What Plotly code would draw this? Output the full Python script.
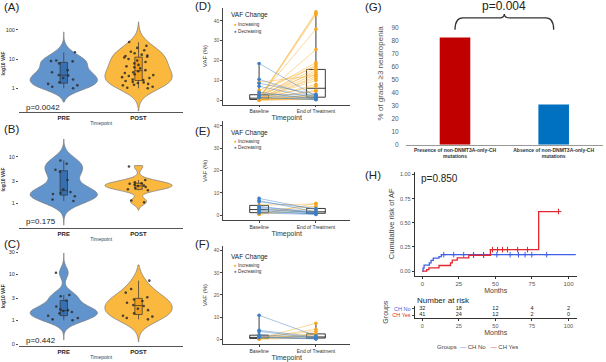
import numpy as np
import plotly.graph_objects as go

W, H = 606, 362
FONT = "Liberation Sans, Arial, sans-serif"

# ---------------- data ----------------
# Panels A-C : log10 VAF of each sample (PRE / POST)
a_pre = [1.23, 0.95, 0.93, 0.92, 0.85, 0.62, 0.55, 0.45, 0.44, 0.35, 0.30, 0.20, 0.15, 0.10, 0.05, 0.0]
a_post = [1.58, 1.45, 1.38, 1.30, 1.25, 1.20, 1.15, 1.12, 1.10, 1.08, 1.05, 1.00, 0.95, 0.90, 0.85,
          0.80, 0.75, 0.72, 0.68, 0.62, 0.58, 0.55, 0.52, 0.48, 0.45, 0.42, 0.38, 0.35, 0.30, 0.28,
          0.25, 0.22, 0.20, 0.18, 0.15, 0.12, 0.10, 0.05, 0.02, 0.0]
b_pre = [0.92, 0.85, 0.72, 0.68, 0.50, 0.30, 0.24, 0.22, 0.20, 0.15, 0.08, 0.05]
b_post = [0.79, 0.50, 0.45, 0.43, 0.42, 0.40, 0.38, 0.37, 0.35, 0.33, 0.30, 0.28, 0.06, 0.02]
c_pre = [1.03, 0.55, 0.52, 0.43, 0.30, 0.24, 0.22, 0.20, 0.18, 0.15, 0.10, 0.05, 0.02, 0.0]
c_post = [0.86, 0.68, 0.60, 0.50, 0.45, 0.42, 0.38, 0.33, 0.31, 0.25, 0.22, 0.15, 0.10, 0.08, 0.05, 0.02]
violin_p = ["p=0.0042", "p=0.175", "p=0.442"]
a_ticks, a_labels = [1, 10, 100], ["1", "10", "100"]
b_ticks, b_labels = [1, 3, 10], ["1", "3", "10"]
c_ticks, c_labels = [0.3, 1, 3, 10, 30], ["0", "1", "3", "10", "30"]

# Panels D-F : VAF (%) at Baseline / End of Treatment, split by change direction
d_inc_base = [0.5, 1.0, 0.3, 1.5, 0.8, 3.0, 1.0, 5.0, 2.0, 0.5, 2.5, 1.2, 0.3, 9.0, 1.0, 0.6, 0.2, 1.0, 0.4, 0.8, 0.1, 0.3, 0.5, 0.2, 0.1, 0.1, 0.05]
d_inc_end = [44.5, 43.8, 43.0, 35.8, 25.5, 19.0, 18.0, 17.0, 16.0, 15.0, 14.0, 13.0, 12.0, 12.5, 11.0, 10.0, 8.0, 7.0, 5.0, 4.5, 3.0, 2.5, 2.0, 1.5, 0.8, 0.6, 0.4]
d_dec_base = [18.5, 10.5, 8.5, 7.0, 4.0, 3.0, 2.5, 1.5, 1.2]
d_dec_end = [2.0, 1.5, 3.0, 1.0, 0.5, 2.5, 1.0, 0.2, 0.5]
e_inc_base = [0.3, 1.0, 2.0, 0.5, 4.5]
e_inc_end = [5.3, 3.0, 4.0, 2.0, 5.0]
e_dec_base = [7.5, 6.5, 6.0, 4.0, 3.5, 3.0, 2.5, 2.0, 1.5, 1.0]
e_dec_end = [2.5, 1.5, 3.0, 1.0, 1.5, 0.8, 1.2, 0.5, 0.6, 0.3]
f_inc_base = [0.2, 0.5, 1.0, 0.3, 0.1, 0.8, 0.4, 0.0]
f_inc_end = [7.2, 4.5, 3.5, 2.5, 2.0, 1.5, 1.0, 0.5]
f_dec_base = [10.8, 4.0, 3.5, 2.0, 1.2, 0.9, 0.7]
f_dec_end = [1.5, 1.0, 0.5, 0.8, 0.3, 0.2, 0.1]
timepoints = ["Baseline", "End of Treatment"]
vaf_ticks = [0, 10, 20, 30, 40]

# Panel G
g_cats = ["Presence of non-DNMT3A-only-CH<br>mutations", "Absence of non-DNMT3A-only-CH<br>mutations"]
g_vals = [82.6, 31.0]
g_ticks = [0, 10, 20, 30, 40, 50, 60, 70, 80, 90]

# Panel H : cumulative risk of AF (step functions)
h_no_t = [0, 0.5, 1.2, 4.8, 6.0, 7.5, 11.4, 13.0, 105.0]
h_no_y = [0, 0.03, 0.062, 0.086, 0.11, 0.135, 0.15, 0.17, 0.17]
h_yes_t = [0, 3.0, 4.5, 11.4, 19.3, 20.5, 23.9, 31.8, 46.6, 79.6, 93.2]
h_yes_y = [0, 0.014, 0.034, 0.058, 0.086, 0.113, 0.137, 0.164, 0.222, 0.617, 0.617]
h_no_cens = [14.7, 21.5, 28.3, 35.1, 41.9, 51.0, 60.1, 65.8, 70.3, 74.9, 85.1]
h_yes_cens = [35.0, 42.0, 48.0, 51.5, 54.9, 58.3, 65.2, 72.0, 93.2]
risk_t = [0, 25, 50, 75, 100]
risk_no = [32, 18, 12, 4, 2]
risk_yes = [41, 24, 12, 2, 0]

# ---------------- styles ----------------
PRE_FILL, POST_FILL = "rgba(80,136,199,0.9)", "rgba(251,180,52,0.95)"
PRE_BOX, POST_BOX = "#3670B2", "#F29F1D"
ORANGE, BLUE = "#F6A623", "#3D7FC5"
ORANGE_L, BLUE_L = "rgba(246,176,50,0.55)", "rgba(61,127,197,0.5)"
KM_BLUE, KM_RED = "#3F5FE6", "#E5262E"


def xdom(l, r):
    return [l / W, r / W]


def ydom(t, b):
    return [1 - b / H, 1 - t / H]


def ann(text, x, y, size, color="#222", xanchor="left", yanchor="middle", **kw):
    return dict(text=text, x=x / W, y=1 - y / H, xref="paper", yref="paper", showarrow=False,
                font=dict(size=size, color=color, family=FONT), xanchor=xanchor, yanchor=yanchor, **kw)


fig = go.Figure()
layout = dict(width=W, height=H, margin=dict(l=0, r=0, t=0, b=0), paper_bgcolor="white",
              plot_bgcolor="white", showlegend=False, violinmode="overlay", boxmode="overlay",
              font=dict(family=FONT))
annotations = []


def axname(n, letter):
    return f"{letter}axis" if n == 1 else f"{letter}axis{n}"


def ref(n, letter):
    return letter if n == 1 else f"{letter}{n}"


# ---------------- A, B, C violins ----------------
vio = [
    (1, a_pre, a_post, [-0.47, 1.93], [-0.78, 2.27], 0.2, 0.28, (15.3, 112.6), [-0.8, 2.5], a_ticks, a_labels),
    (2, b_pre, b_post, [-0.47, 1.38], [-0.15, 0.81], 0.15, 0.07, (132.2, 229.9), [-0.53, 1.55], b_ticks, b_labels),
    (3, c_pre, c_post, [-0.43, 1.46], [-0.47, 1.2], 0.12, 0.17, (248.6, 349.0), [-0.56, 1.6], c_ticks, c_labels),
]
for n, pre, post, sp1, sp2, bw1, bw2, (yt, yb), yr, tv, tt in vio:
    for cat, vals, sp, bw, fill, boxc in [("PRE", pre, sp1, bw1, PRE_FILL, PRE_BOX),
                                           ("POST", post, sp2, bw2, POST_FILL, POST_BOX)]:
        fig.add_trace(go.Violin(
            x=[cat] * len(vals), y=vals, xaxis=ref(n, "x"), yaxis=ref(n, "y"),
            fillcolor=fill, line=dict(color="#7a7a7a", width=0.7), width=0.9,
            spanmode="manual", span=sp, bandwidth=bw, scalemode="width",
            points="all", pointpos=0, jitter=0.55,
            marker=dict(size=2.6, color="rgba(45,45,45,0.85)", line=dict(width=0)),
            box=dict(visible=True, width=0.11, fillcolor=boxc, line=dict(color="#333", width=0.7)),
            meanline=dict(visible=False), showlegend=False, hoverinfo="skip"))
    layout[axname(n, "x")] = dict(
        domain=xdom(17, 182), anchor=ref(n, "y"), type="category", categoryorder="array",
        categoryarray=["PRE", "POST"], range=[-0.6, 1.6], showline=True, linecolor="#555",
        linewidth=0.8, ticks="", tickvals=["PRE", "POST"], ticktext=["<b>PRE</b>", "<b>POST</b>"],
        tickfont=dict(size=6, color="#222"), showgrid=False, zeroline=False,
        title=dict(text="Timepoint", font=dict(size=5, color="#444"), standoff=1))
    layout[axname(n, "y")] = dict(
        domain=ydom(yt, yb), anchor=ref(n, "x"), range=yr, tickvals=list(np.log10(tv)), ticktext=tt,
        ticks="outside", ticklen=2, tickwidth=0.6, tickcolor="#555", tickfont=dict(size=5.5, color="#333"),
        showline=False, showgrid=False, zeroline=False,
        title=dict(text="<b>log10 VAF</b>", font=dict(size=5, color="#333"), standoff=2))

# ---------------- D, E, F paired lines ----------------
pair = [
    (4, d_inc_base, d_inc_end, d_dec_base, d_dec_end, (7.6, 105.4), [-2.2, 46.7]),
    (5, e_inc_base, e_inc_end, e_dec_base, e_dec_end, (122.5, 221.9), [-2.2, 42]),
    (6, f_inc_base, f_inc_end, f_dec_base, f_dec_end, (248.3, 346.9), [-2.2, 42]),
]
for n, ib, ie, db, de, (yt, yb), yr in pair:
    xa, ya = ref(n, "x"), ref(n, "y")
    for b, e, lc in [(ib, ie, ORANGE_L), (db, de, BLUE_L)]:
        xs, ys = [], []
        for bb, ee in zip(b, e):
            xs += [0, 1, None]
            ys += [bb, ee, None]
        fig.add_trace(go.Scatter(x=xs, y=ys, mode="lines", line=dict(color=lc, width=0.9),
                                 xaxis=xa, yaxis=ya, hoverinfo="skip"))
    for b, e, pc in [(ib, ie, ORANGE), (db, de, BLUE)]:
        fig.add_trace(go.Scatter(x=[0] * len(b) + [1] * len(e), y=list(b) + list(e), mode="markers",
                                 marker=dict(size=3.6, color=pc, line=dict(width=0)),
                                 xaxis=xa, yaxis=ya, hoverinfo="skip"))
    for pos, vals in [(0, list(ib) + list(db)), (1, list(ie) + list(de))]:
        fig.add_trace(go.Box(x=[pos] * len(vals), y=vals, xaxis=xa, yaxis=ya, width=0.33,
                             boxpoints=False, quartilemethod="linear", whiskerwidth=0,
                             fillcolor="rgba(255,255,255,0)", line=dict(color="#222", width=0.9),
                             hoverinfo="skip"))
    layout[axname(n, "x")] = dict(
        domain=xdom(222, 349.2), anchor=ya, range=[-0.63, 1.6], tickvals=[0, 1], ticktext=timepoints,
        showline=True, linecolor="#444", linewidth=0.8, ticks="outside", ticklen=2, tickwidth=0.6,
        tickcolor="#444", tickfont=dict(size=5, color="#333"), showgrid=False, zeroline=False,
        title=dict(text="Timepoint", font=dict(size=7, color="#333"), standoff=1))
    layout[axname(n, "y")] = dict(
        domain=ydom(yt, yb), anchor=xa, range=yr, tickvals=vaf_ticks, ticksuffix="%",
        showline=True, linecolor="#444", linewidth=0.8, ticks="outside", ticklen=2, tickwidth=0.6,
        tickcolor="#444", tickfont=dict(size=5, color="#555"), showgrid=False, zeroline=False,
        title=dict(text="VAF (%)", font=dict(size=6, color="#333"), standoff=5))

# legends for D/E/F
for yt, yi, yd in [(15.5, 24.5, 31.5), (134, 142.5, 149), (259, 267.3, 274)]:
    annotations.append(ann("VAF Change", 228, yt, 6.5, "#222"))
    annotations.append(ann(f"<span style='color:{ORANGE}'>●</span> Increasing", 231, yi, 4.6, "#333"))
    annotations.append(ann(f"<span style='color:{BLUE}'>●</span> Decreasing", 231, yd, 4.6, "#333"))

# ---------------- G bars ----------------
fig.add_trace(go.Bar(x=[0, 1], y=g_vals, width=0.31, marker=dict(color=["#C00000", "#0070C0"], line=dict(width=0)),
                     xaxis="x7", yaxis="y7", hoverinfo="skip"))
layout["xaxis7"] = dict(domain=xdom(405, 603), anchor="y7", range=[-0.5, 1.5], tickvals=[0, 1],
                        ticktext=[f"<b>{c}</b>" for c in g_cats], tickfont=dict(size=5, color="#333"),
                        showline=True, linecolor="#999", linewidth=0.8, ticks="", showgrid=False, zeroline=False)
layout["yaxis7"] = dict(domain=ydom(1.8, 146), anchor="x7", range=[0, 110], tickvals=g_ticks, ticksuffix="%",
                        tickfont=dict(size=6.5, color="#555"), showline=False, ticks="", showgrid=False,
                        zeroline=False, ticklabelstandoff=6,
                        title=dict(text="% of grade ≥3 neutropenia", font=dict(size=8, color="#555"), standoff=6))
layout["shapes"] = [dict(type="path", xref="x7", yref="y7",
                         path="M 0,88.5 Q 0,97.6 0.08,97.6 L 0.44,97.6 Q 0.5,97.6 0.5,100.7 "
                              "Q 0.5,97.6 0.56,97.6 L 0.92,97.6 Q 1,97.6 1,88.5",
                         line=dict(color="#333", width=1.3))]
annotations.append(dict(text="p=0.004", x=0.5, xref="x7", y=1 - 6.5 / H, yref="paper", showarrow=False,
                        font=dict(size=12, color="#222", family=FONT), xanchor="center", yanchor="middle"))

# ---------------- H cumulative incidence ----------------
for t, yv, col in [(h_no_t, h_no_y, KM_BLUE), (h_yes_t, h_yes_y, KM_RED)]:
    fig.add_trace(go.Scatter(x=t, y=yv, mode="lines", line=dict(color=col, width=1.3, shape="hv"),
                             xaxis="x8", yaxis="y8", hoverinfo="skip"))
for t, yv, cens, col in [(h_no_t, h_no_y, h_no_cens, KM_BLUE), (h_yes_t, h_yes_y, h_yes_cens, KM_RED)]:
    idx = np.searchsorted(np.array(t), np.array(cens), side="right") - 1
    fig.add_trace(go.Scatter(x=cens, y=np.array(yv)[idx], mode="markers",
                             marker=dict(symbol="cross-thin", size=4, line=dict(color=col, width=1)),
                             xaxis="x8", yaxis="y8", hoverinfo="skip"))
layout["xaxis8"] = dict(domain=xdom(414, 576.7), anchor="y8", range=[-5.25, 105.7], tickvals=risk_t,
                        showline=True, linecolor="#333", linewidth=0.8, ticks="outside", ticklen=2,
                        tickcolor="#333", tickfont=dict(size=6, color="#555"), showgrid=False, zeroline=False,
                        title=dict(text="Months", font=dict(size=7, color="#444"), standoff=1))
layout["yaxis8"] = dict(domain=ydom(173, 278.3), anchor="x8", range=[-0.051, 1.031],
                        tickvals=[0, 0.25, 0.5, 0.75, 1.0], ticktext=["0.00", "0.25", "0.50", "0.75", "1.00"],
                        showline=True, linecolor="#333", linewidth=0.8, ticks="outside", ticklen=2,
                        tickcolor="#333", tickfont=dict(size=5.5, color="#555"), showgrid=False, zeroline=False,
                        title=dict(text="Cumulative risk of AF", font=dict(size=7.5, color="#444"), standoff=4))
annotations.append(ann("p=0.850", 418, 179.5, 10, "#222"))

# number at risk table
fig.add_trace(go.Scatter(x=risk_t, y=[1] * len(risk_t), mode="text", text=[str(v) for v in risk_no],
                         textfont=dict(size=5.5, color="#222"), xaxis="x9", yaxis="y9", hoverinfo="skip"))
fig.add_trace(go.Scatter(x=risk_t, y=[0] * len(risk_t), mode="text", text=[str(v) for v in risk_yes],
                         textfont=dict(size=5.5, color="#222"), xaxis="x9", yaxis="y9", hoverinfo="skip"))
layout["xaxis9"] = dict(domain=xdom(414, 576.7), anchor="y9", range=[-5.25, 105.7], tickvals=risk_t,
                        showline=True, linecolor="#333", linewidth=0.8, ticks="outside", ticklen=2,
                        tickcolor="#333", tickfont=dict(size=5.5, color="#555"), showgrid=False, zeroline=False,
                        title=dict(text="Months", font=dict(size=7, color="#444"), standoff=1))
layout["yaxis9"] = dict(domain=ydom(308.5, 321.0), anchor="x9", range=[-0.55, 1.5], tickvals=[0, 1],
                        ticktext=[f"<span style='color:{KM_RED}'>CH Yes</span>",
                                  f"<span style='color:{KM_BLUE}'>CH No</span>"],
                        showline=True, linecolor="#333", linewidth=0.8, ticks="outside", ticklen=2,
                        tickfont=dict(size=5.5, color="#444"), showgrid=False, zeroline=False,
                        title=dict(text="Groups", font=dict(size=7, color="#444"), standoff=2))
annotations.append(ann("Number at risk", 414, 303.0, 8, "#222"))
annotations.append(ann(f"Groups  <span style='color:{KM_BLUE}'>—</span> CH No   "
                       f"<span style='color:{KM_RED}'>—</span> CH Yes", 477, 349.5, 6, "#444", xanchor="center"))

# ---------------- panel labels / p-values ----------------
for lab, x, y in [("(A)", 0, 7), ("(B)", 0, 130), ("(C)", 0, 246.5), ("(D)", 192, 6), ("(E)", 192, 132),
                  ("(F)", 192, 246), ("(G)", 362, 7), ("(H)", 362, 176)]:
    annotations.append(ann(lab, x, y, 11.5, "#222"))
for txt, y in zip(violin_p, [108, 223.5, 343.5]):
    annotations.append(ann(txt, 22, y, 8, "#222"))

layout["annotations"] = annotations
fig.update_layout(**layout)
fig.write_html("out.html")
